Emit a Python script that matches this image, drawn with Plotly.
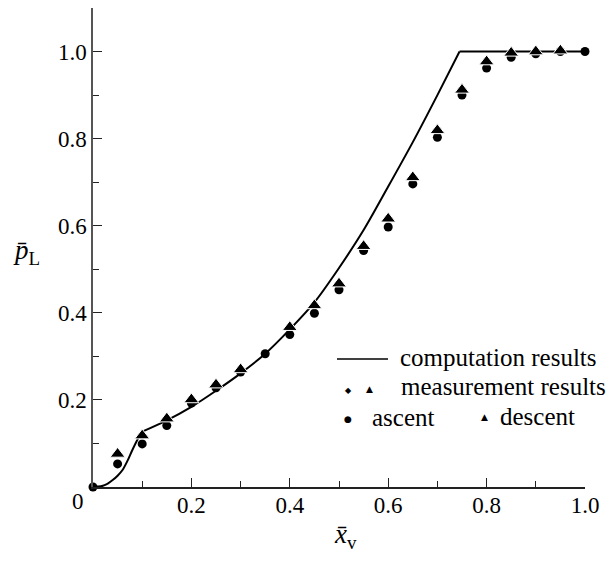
import plotly.graph_objects as go

# computation results (solid curve)
calc_x = [0, 0.01, 0.02, 0.03, 0.04, 0.05, 0.06, 0.07, 0.08, 0.09, 0.1,
          0.15, 0.2, 0.25, 0.3, 0.35, 0.4, 0.45, 0.5, 0.55, 0.6, 0.65, 0.7,
          0.745, 0.8, 0.9, 1.0]
calc_y = [0, 0.001, 0.003, 0.008, 0.016, 0.026, 0.039, 0.06, 0.085, 0.108, 0.127,
          0.153, 0.184, 0.221, 0.261, 0.306, 0.362, 0.424, 0.503, 0.59, 0.69, 0.792, 0.9,
          1.0, 1.0, 1.0, 1.0]

# measurement results
meas_x = [0, 0.05, 0.1, 0.15, 0.2, 0.25, 0.3, 0.35, 0.4, 0.45, 0.5,
          0.55, 0.6, 0.65, 0.7, 0.75, 0.8, 0.85, 0.9, 0.95, 1.0]
ascent = [0, 0.053, 0.099, 0.141, 0.193, 0.228, 0.264, 0.306, 0.350, 0.399, 0.453,
          0.543, 0.597, 0.696, 0.803, 0.900, 0.962, 0.987, 0.995, 1.0, 1.0]
descent = [None, 0.076, 0.118, 0.157, 0.201, 0.235, 0.270, None, 0.367, 0.417, 0.467,
           0.553, 0.616, 0.711, 0.819, 0.912, 0.977, 0.997, 1.0, 1.002, None]

x_ticks = [0.2, 0.4, 0.6, 0.8, 1.0]
y_ticks = [0.2, 0.4, 0.6, 0.8, 1.0]
tick_labels_x = ["0.2", "0.4", "0.6", "0.8", "1.0"]
tick_labels_y = ["0.2", "0.4", "0.6", "0.8", "1.0"]

FONT = "'Liberation Serif', 'Times New Roman', Times, serif"
OFF = 8  # page body margin
W, H = 614 - OFF, 562 - OFF
ML, MR, MT, MB = 93 - OFF, 29, 0, 75

fig = go.Figure()
# curve drawn in three smooth pieces joined at the two kinks
segments = [(0, 11), (10, 24), (23, len(calc_x))]
for a, b in segments:
    fig.add_trace(go.Scatter(x=calc_x[a:b], y=calc_y[a:b], mode="lines",
                             line=dict(color="black", width=2, shape="spline", smoothing=0.8),
                             cliponaxis=False, showlegend=False))
fig.add_trace(go.Scatter(x=meas_x, y=ascent, mode="markers",
                         marker=dict(symbol="circle", size=9, color="black"),
                         cliponaxis=False, showlegend=False))
fig.add_trace(go.Scatter(x=meas_x, y=descent, mode="markers",
                         marker=dict(symbol="triangle-up", size=13, color="black",
                                     line=dict(color="white", width=1)),
                         cliponaxis=False, showlegend=False))

def px2paper(px, py):
    # px, py are window pixel positions
    fx, fy = px - OFF, py - OFF
    return (fx - ML) / (W - ML - MR), (H - MB - fy) / (H - MT - MB)

annotations = []
shapes = []

def text(px, py, s, size=25, xanchor="left", family=FONT):
    x, y = px2paper(px, py)
    annotations.append(dict(x=x, y=y, xref="paper", yref="paper", text=s,
                            showarrow=False, xanchor=xanchor, yanchor="middle",
                            font=dict(family=family, size=size, color="black")))

# legend
x0, y0 = px2paper(337, 359)
x1, _ = px2paper(388, 359)
shapes.append(dict(type="line", xref="paper", yref="paper", x0=x0, x1=x1, y0=y0, y1=y0,
                   line=dict(color="black", width=1.5)))
text(398, 357, "computation results")
text(348, 390, "◆", size=8, xanchor="center", family="DejaVu Sans")
text(369, 389, "▲", size=9, xanchor="center", family="DejaVu Sans")
text(399, 386, "measurement results")
text(348, 419, "●", size=9, xanchor="center", family="DejaVu Sans")
text(370, 417, "ascent")
text(484, 417, "▲", size=9, xanchor="center", family="DejaVu Sans")
text(498, 416, "descent")

# origin label and axis titles
text(78, 501, "0", size=23, xanchor="center")
text(26, 252, "<i>p̄</i><sub>L</sub>", size=27, xanchor="center")
text(345, 536, "<i>x̄</i><sub>v</sub>", size=27, xanchor="center")

fig.update_layout(
    width=W, height=H,
    margin=dict(l=ML, r=MR, t=MT, b=MB, pad=0),
    paper_bgcolor="white", plot_bgcolor="white",
    font=dict(family=FONT, size=23, color="black"),
    annotations=annotations, shapes=shapes,
    xaxis=dict(range=[0, 1.0], showgrid=False, zeroline=False,
               showline=True, linecolor="#222", linewidth=1.5,
               ticks="inside", ticklen=9, tickwidth=1.2, tickcolor="#222",
               tickvals=x_ticks, ticktext=tick_labels_x, ticklabelstandoff=-3,
               minor=dict(ticks="inside", ticklen=6, tickwidth=1.2, tickcolor="#222", dtick=0.1, tick0=0),
               tickfont=dict(family=FONT, size=23)),
    yaxis=dict(range=[0, 1.1], showgrid=False, zeroline=False,
               showline=True, linecolor="#555", linewidth=1.5,
               ticks="inside", ticklen=9, tickwidth=1.2, tickcolor="#222",
               tickvals=y_ticks, ticktext=tick_labels_y,
               minor=dict(ticks="inside", ticklen=6, tickwidth=1.2, tickcolor="#222", dtick=0.1, tick0=0),
               tickfont=dict(family=FONT, size=23)),
)

fig.write_html("out.html")
